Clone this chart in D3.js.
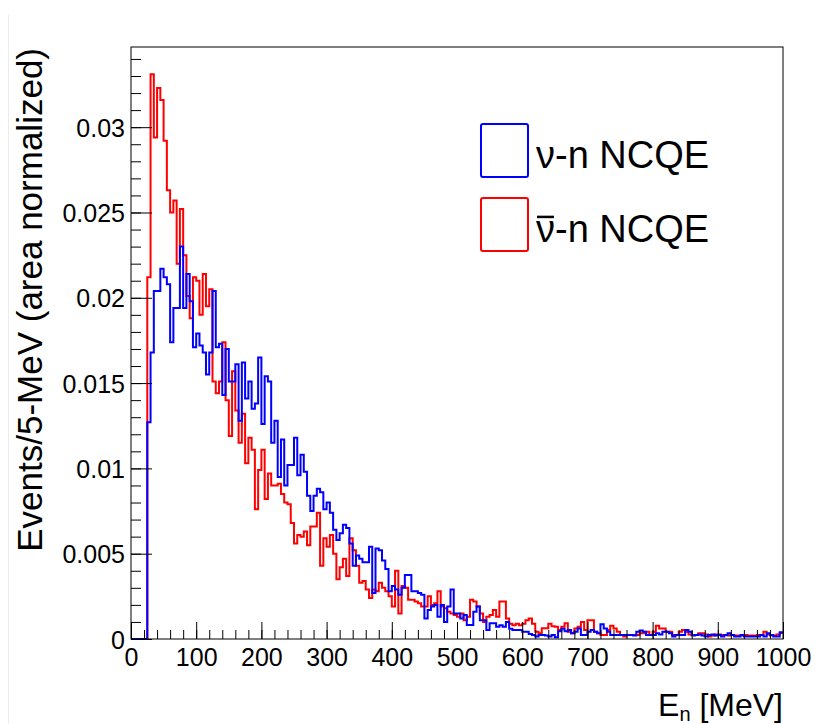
<!DOCTYPE html>
<html>
<head>
<meta charset="utf-8">
<script src="https://cdn.jsdelivr.net/npm/d3@7"></script>
<style>
  body { margin: 0; background: #fff; }
  svg text { font-family: "Liberation Sans", Arial, Helvetica, sans-serif; }
</style>
</head>
<body>
<div id="canvas"></div>
<script>
const width = 837;
const height = 724;

// 5 MeV bins from 0 to 1000 MeV, contents in units of 1e-3
const binWidth = 5;
const nuN = [
  0, 0, 0, 0, 0, 12.7, 16.8, 20.4, 20.4, 21.7,
  21.2, 20.8, 17.4, 19.4, 19.4, 23.0, 19.4, 21.4, 19.8, 17.1,
  17.9, 17.2, 16.8, 15.5, 16.8, 20.4, 17.1, 17.3, 14.3, 17.0,
  15.1, 15.1, 16.1, 12.8, 16.2, 14.1, 15.1, 13.5, 13.8, 16.5,
  12.6, 15.4, 15.1, 11.5, 12.8, 9.5, 11.7, 9.0, 10.2, 10.2,
  11.8, 9.6, 10.8, 9.8, 8.4, 7.5, 8.4, 8.8, 8.6, 7.6,
  8.0, 7.4, 6.4, 5.8, 6.2, 6.7, 6.5, 5.6, 4.3, 4.9,
  4.7, 4.5, 4.5, 5.4, 2.7, 5.3, 5.2, 4.6, 4.1, 2.8,
  3.1, 2.9, 2.6, 3.0, 3.75, 3.75, 2.8, 2.8, 2.7, 2.6,
  1.2, 1.7, 1.9, 2.0, 1.3, 2.0, 1.0, 1.9, 2.9, 1.5,
  1.5, 1.2, 1.4, 0.82, 0.82, 1.6, 1.9, 1.1, 1.1, 0.53,
  0.92, 0.92, 0.72, 0.8, 0.72, 1.0, 0.6, 0.53, 0.53, 0.53,
  0.43, 0.43, 0.29, 0.23, 0.14, 0.23, 0.23, 0.2, 0.14, 0.23,
  0.1, 0.45, 0.6, 0.45, 0.53, 0.33, 0.43, 0.62, 0.23, 0.23,
  0.43, 0.53, 0.43, 0.33, 0.86, 0.62, 0.43, 0.23, 0.23, 0.23,
  0.23, 0.23, 0.23, 0.23, 0.2, 0.43, 0.5, 0.43, 0.23, 0.23,
  0.23, 0.33, 0.27, 0.43, 0.43, 0.33, 0.14, 0.23, 0.23, 0.23,
  0.53, 0.43, 0.2, 0.23, 0.27, 0.2, 0.14, 0.23, 0.27, 0.2,
  0.23, 0.14, 0.23, 0.33, 0.23, 0.14, 0.14, 0.23, 0.14, 0.14,
  0.14, 0.14, 0.14, 0.23, 0.14, 0.33, 0.23, 0.14, 0.14, 0.4
];
const nubarN = [
  0, 0, 0, 0, 0, 21.2, 33.1, 29.4, 32.3, 31.6,
  29.2, 26.3, 25.0, 25.7, 22.0, 25.2, 22.5, 20.1, 18.8, 21.2,
  21.0, 19.0, 21.4, 19.5, 20.5, 15.1, 14.4, 15.1, 17.4, 14.0,
  11.9, 15.7, 13.4, 11.5, 13.2, 10.3, 11.8, 11.1, 7.6, 9.9,
  11.1, 8.2, 9.7, 9.0, 9.0, 9.1, 8.5, 8.0, 7.9, 6.8,
  5.6, 6.1, 6.0, 6.3, 5.5, 6.6, 6.6, 7.4, 4.3, 5.9,
  5.4, 6.1, 5.0, 3.5, 4.2, 4.7, 3.7, 5.9, 5.2, 4.3,
  3.3, 3.4, 2.9, 2.4, 2.9, 2.8, 3.3, 3.0, 2.8, 2.5,
  1.9, 4.0, 1.5, 3.1, 3.0, 2.3, 2.3, 2.2, 2.1, 1.9,
  1.9, 2.5, 2.0, 2.1, 2.8, 1.9, 1.8, 1.6, 1.5, 1.4,
  1.3, 1.5, 1.1, 1.3, 2.3, 2.2, 1.9, 1.5, 1.0, 1.3,
  1.4, 1.7, 1.3, 2.2, 2.2, 1.2, 0.9, 0.8, 0.9, 0.8,
  0.9, 1.1, 1.2, 0.9, 0.43, 0.33, 0.63, 0.63, 0.9, 0.75,
  0.72, 0.53, 0.72, 0.92, 0.43, 0.33, 0.62, 0.72, 1.0, 0.53,
  1.1, 1.1, 0.43, 0.33, 0.23, 0.23, 0.53, 0.78, 0.62, 0.43,
  0.23, 0.14, 0.23, 0.23, 0.23, 0.23, 0.33, 0.33, 0.43, 0.23,
  0.43, 0.78, 0.62, 0.62, 0.43, 0.43, 0.23, 0.23, 0.43, 0.53,
  0.43, 0.27, 0.23, 0.23, 0.33, 0.33, 0.27, 0.14, 0.2, 0.27,
  0.27, 0.23, 0.23, 0.2, 0.23, 0.2, 0.2, 0.2, 0.23, 0.2,
  0.2, 0.2, 0.23, 0.23, 0.43, 0.27, 0.2, 0.2, 0.27, 0.35
];
const yTicks = [0, 0.005, 0.01, 0.015, 0.02, 0.025, 0.03];
const xTicks = [0, 100, 200, 300, 400, 500, 600, 700, 800, 900, 1000];

const series = [
  {name: 'nubar', values: nubarN, color: '#ff0000'},
  {name: 'nu', values: nuN, color: '#0000ff'}
];

const frameL = 131, frameR = 783, frameT = 47, frameB = 639;

const svg = d3.select('#canvas').append('svg')
  .attr('width', width)
  .attr('height', height)

// faint page edge on the left
svg.append('line')
  .attr('x1', 8.5).attr('x2', 8.5).attr('y1', 15).attr('y2', height)
  .attr('stroke', '#ececec').attr('stroke-width', 1);

const xScale = d3.scaleLinear().domain([0, 1000]).range([frameL, frameR]);
const yScale = d3.scaleLinear().domain([0, 0.0347]).range([frameB, frameT]);

// histogram outlines
const line = d3.line()
  .x(d => xScale(d.x))
  .y(d => yScale(d.v))
  .curve(d3.curveStepAfter);

series.forEach(s => {
  const pts = s.values.map((v, i) => ({x: i * binWidth, v: v * 1e-3}));
  pts.push({x: pts.length * binWidth, v: s.values[s.values.length - 1] * 1e-3});
  svg.append('path')
    .attr('d', line(pts))
    .attr('fill', 'none')
    .attr('stroke', s.color)
    .attr('stroke-width', 2)
    .attr('stroke-linejoin', 'miter');
});

// axes, ticks pointing inside the frame
const minorY = d3.range(0, 0.0345, 0.001);
const minorX = d3.range(0, 1001, 20);

svg.append('g')
  .attr('transform', `translate(${frameL},0)`)
  .call(d3.axisLeft(yScale).tickValues(minorY).tickSize(-10).tickFormat(''))
  .call(g => g.select('.domain').remove());

svg.append('g')
  .attr('transform', `translate(${frameL},0)`)
  .call(d3.axisLeft(yScale).tickValues(yTicks).tickSize(-21).tickPadding(6)
    .tickFormat(d => d === 0 ? '0' : String(+d.toFixed(3))))
  .call(g => g.select('.domain').remove())
  .selectAll('text')
  .attr('font-size', 25)
  .attr('fill', '#000')
  .attr('dy', '0.36em');

svg.append('g')
  .attr('transform', `translate(0,${frameB})`)
  .call(d3.axisBottom(xScale).tickValues(minorX).tickSize(-9).tickFormat(''))
  .call(g => g.select('.domain').remove());

svg.append('g')
  .attr('transform', `translate(0,${frameB})`)
  .call(d3.axisBottom(xScale).tickValues(xTicks).tickSize(-17).tickPadding(9).tickFormat(d3.format('d')))
  .call(g => g.select('.domain').remove())
  .selectAll('text')
  .attr('font-size', 25)
  .attr('fill', '#000');

svg.selectAll('.tick line').attr('stroke', '#000');

// frame
svg.append('rect')
  .attr('x', frameL).attr('y', frameT)
  .attr('width', frameR - frameL).attr('height', frameB - frameT)
  .attr('fill', 'none').attr('stroke', '#000').attr('stroke-width', 1);

// axis titles
const xt = svg.append('text')
  .attr('x', frameR).attr('y', 716)
  .attr('text-anchor', 'end')
  .attr('font-size', 32);
xt.append('tspan').text('E');
xt.append('tspan').attr('font-size', 20).attr('dy', 5).text('n');
xt.append('tspan').attr('dy', -5).text(' [MeV]');

svg.append('text')
  .attr('transform', `translate(42,${frameT + 1}) rotate(-90)`)
  .attr('text-anchor', 'end')
  .attr('font-size', 35)
  .text('Events/5-MeV (area normalized)');

// legend
const legend = [
  {label: 'ν-n NCQE', color: '#0000ff', anti: false},
  {label: 'ν-n NCQE', color: '#ff0000', anti: true}
];
const legendFont = 38;
const lg = svg.append('g');
legend.forEach((d, i) => {
  const y0 = 124 + i * 74;
  const base = y0 + 44;
  lg.append('rect')
    .attr('x', 481).attr('y', y0)
    .attr('width', 47).attr('height', 53)
    .attr('rx', 2)
    .attr('fill', '#fff').attr('stroke', d.color).attr('stroke-width', 2);
  const t = lg.append('text')
    .attr('x', 536).attr('y', base)
    .attr('font-size', legendFont)
    .text(d.label);
  if (d.anti) {
    // bar over the nu, sized from the glyph itself
    const box = t.node().getExtentOfChar(0);
    lg.append('line')
      .attr('x1', box.x + 1).attr('x2', box.x + box.width - 1)
      .attr('y1', base - legendFont * 0.66).attr('y2', base - legendFont * 0.66)
      .attr('stroke', '#000').attr('stroke-width', 2.5);
  }
});
</script>
</body>
</html>
